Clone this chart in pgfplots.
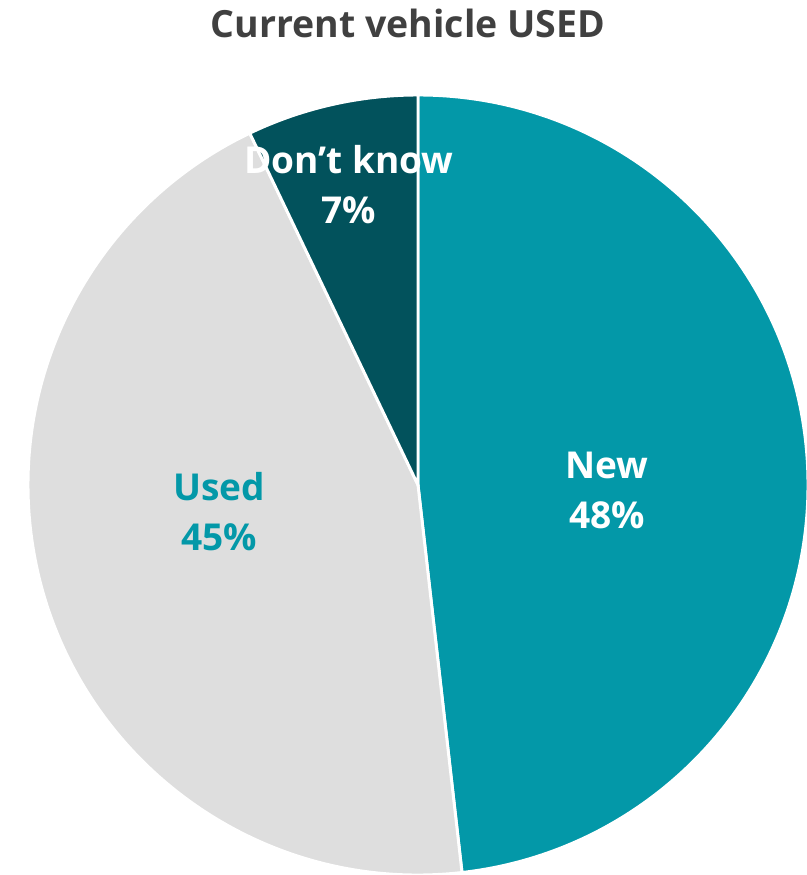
\documentclass[border=0pt]{standalone}
\usepackage{pgfplots}
\pgfplotsset{compat=1.18}
\usepackage{fontspec}
\setmainfont{Open Sans}
\definecolor{newc}{HTML}{0398A8}
\definecolor{usedc}{HTML}{DEDEDE}
\definecolor{dkc}{HTML}{02525C}
\definecolor{titlec}{HTML}{404040}
% shares (percent)
\def\vNew{48.2}
\def\vUsed{44.7}
\def\vDK{7.1}
\begin{document}
\begin{tikzpicture}
\begin{axis}[
  x=0.75pt, y=0.75pt,
  xmin=0, xmax=807, ymin=0, ymax=875,
  hide axis, clip=false, scale only axis,
  anchor=origin, at={(0,0)},
]
% pie centre (418,390), radius 390 px = 292.5pt
\pgfmathsetmacro{\aA}{90}
\pgfmathsetmacro{\aB}{90-\vNew*3.6}
\pgfmathsetmacro{\aC}{90-(\vNew+\vUsed)*3.6}
\pgfmathsetmacro{\aD}{90-(\vNew+\vUsed+\vDK)*3.6}
\filldraw[fill=newc, draw=white, line width=2.2pt]
  (axis cs:418,390) -- ++(\aA:292.5pt) arc[start angle=\aA, end angle=\aB, radius=292.5pt] -- cycle;
\filldraw[fill=usedc, draw=white, line width=2.2pt]
  (axis cs:418,390) -- ++(\aB:292.5pt) arc[start angle=\aB, end angle=\aC, radius=292.5pt] -- cycle;
\filldraw[fill=dkc, draw=white, line width=2.2pt]
  (axis cs:418,390) -- ++(\aC:292.5pt) arc[start angle=\aC, end angle=\aD, radius=292.5pt] -- cycle;
\node[font=\fontsize{27.8}{37.5}\selectfont\bfseries, text=white, align=center]
  at (axis cs:607,385) {New\\48\%};
\node[font=\fontsize{27.8}{37.5}\selectfont\bfseries, text=newc, align=center]
  at (axis cs:219,363) {Used\\45\%};
\node[font=\fontsize{27.8}{37.5}\selectfont\bfseries, text=white, align=center]
  at (axis cs:349,690) {Don’t know\\7\%};
\node[font=\fontsize{28.1}{32}\selectfont\bfseries, text=titlec]
  at (axis cs:408,852) {Current vehicle USED};
\end{axis}
\pgfresetboundingbox
\path[use as bounding box] (0,0) rectangle (605.25pt,656.25pt);
\end{tikzpicture}
\end{document}
